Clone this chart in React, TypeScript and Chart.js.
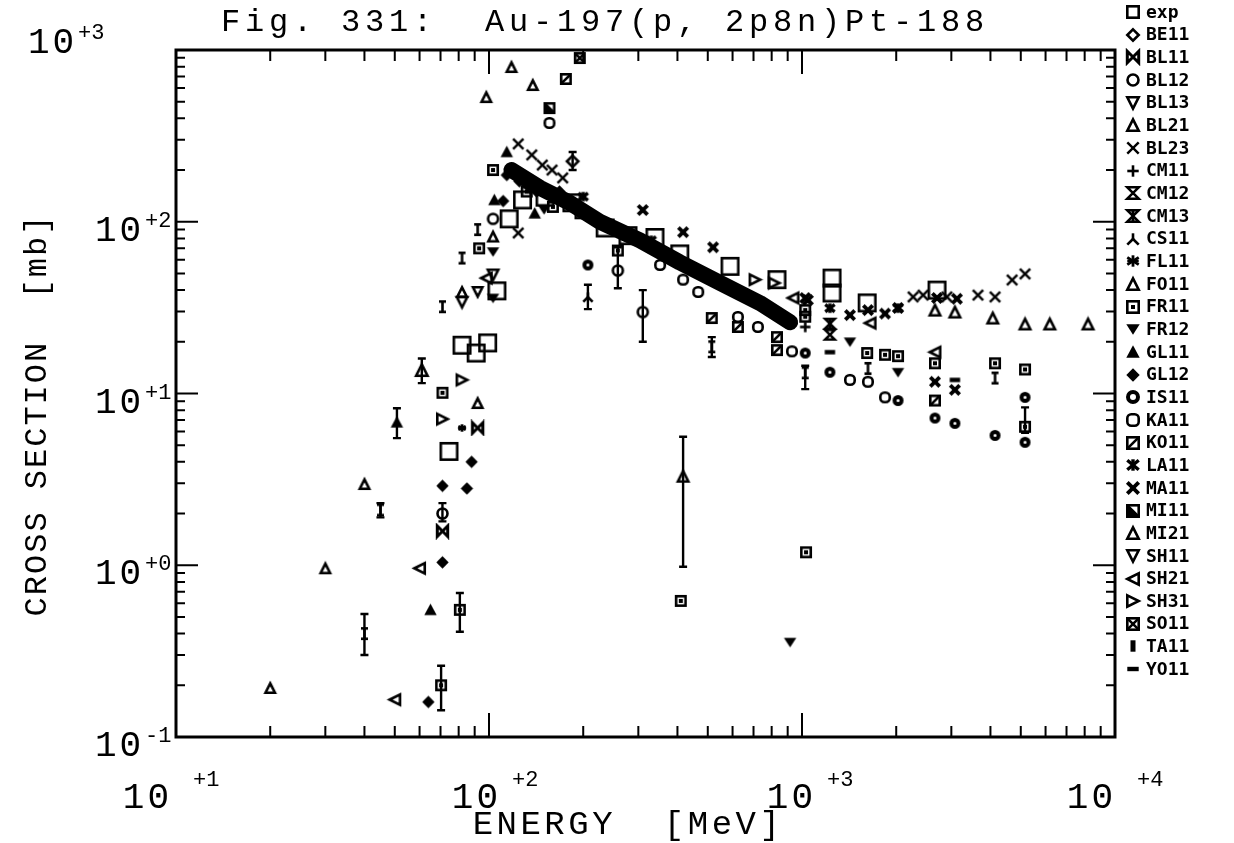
import { useEffect, useRef } from "react";
import { Chart, registerables } from "chart.js";

Chart.register(...registerables);

// ---------- axis / text ----------
const X_DECADES = [10, 100, 1000, 10000];
const Y_DECADES = [0.1, 1, 10, 100, 1000];
const X_EXPONENTS = ["+1", "+2", "+3", "+4"];
const Y_EXPONENTS = ["-1", "+0", "+1", "+2", "+3"];
const TITLE = "Fig. 331:  Au-197(p, 2p8n)Pt-188";
const X_TITLE = "ENERGY  [MeV]";
const Y_TITLE = "CROSS SECTION  [mb]";

// ---------- data: [energy MeV, cross section mb] ----------
const exp = [[74.5, 4.6], [82, 19.1], [91, 17.2], [99, 19.7], [106, 39.6], [116, 104], [128, 134], [151, 139], [184, 129], [235, 92], [278, 83], [339, 81], [407, 65], [589, 55], [832, 46], [1247, 47], [1247, 38.5], [1615, 33.7], [2700, 40]];
const be11 = [[185, 225], [135, 160]];
const bl11 = [[92, 6.3], [71, 1.58]];
const bl12 = [[103, 104], [71, 2.0], [258, 52], [310, 29.8]];
const bl13 = [[92, 39]];
const bl21 = [[20, 0.193], [30, 0.96], [40, 2.97], [92, 8.8], [103, 82], [82, 39], [98, 532], [118, 796], [138, 625]];
const bl23 = [[124, 284], [137, 245], [148, 214], [159, 200], [172, 180], [124, 86], [2264, 36.5], [2437, 37.4], [2904, 36.5], [3650, 37.4], [4138, 36.5], [4690, 45.8], [5160, 49.7]];
const cm11 = [[1024, 24.4]];
const cm12 = [[1228, 22]];
const cm13 = [[1228, 25.5]];
const cs11 = [[207, 36.4]];
const fl11 = [[82, 6.3]];
const fo11 = [[61, 13.7]];
const fr11 = [[93, 70], [71, 10.1], [80.7, 0.55], [70.3, 0.2], [410, 0.62], [1030, 1.19], [103, 200], [1024, 30.6], [1024, 28], [1615, 17.2], [1842, 16.8], [2027, 16.5], [2660, 15], [4138, 15], [5160, 13.8], [5160, 6.4], [258, 68], [132, 150], [160, 122], [196, 112]];
const fr12 = [[103, 67], [103, 36], [916, 0.357], [1423, 20], [2027, 13.3], [150, 118]];
const gl11 = [[114, 255], [104, 134], [65, 0.55], [50.8, 6.8], [140, 112]];
const gl12 = [[114, 187], [111, 132], [71, 1.04], [64, 0.16], [71, 2.9], [85, 2.8], [88, 4.0], [125, 172], [142, 150], [168, 150]];
const is11 = [[207, 56], [1024, 17.2], [2027, 9.1], [2660, 7.2], [3080, 6.7], [5160, 5.2], [1228, 13.3], [4138, 5.7], [5160, 9.5]];
const ka11 = [[156, 376], [352, 56], [417, 46], [466, 39], [624, 27.9], [723, 24.4], [929, 17.6], [1423, 12], [1625, 11.7], [1842, 9.5]];
const ko11 = [[176, 678], [515, 27.5], [624, 24.4], [832, 21.3], [832, 17.9], [2660, 9.1]];
const la11 = [[1228, 31.4], [2027, 31.4], [200, 140], [330, 78]];
const ma11 = [[310, 117], [417, 87], [520, 71], [1024, 36], [1044, 35], [1423, 28.6], [1625, 30.6], [1842, 29.2], [2027, 31.5], [2700, 36], [3126, 35.6], [2660, 11.7], [3080, 10.5]];
const mi11 = [[156, 459]];
const mi21 = [[417, 3.3], [2660, 30.6], [3080, 29.8], [4070, 27.5], [5160, 25.4], [6190, 25.4], [8200, 25.4]];
const sh11 = [[103, 49], [82, 34]];
const sh21 = [[50, 0.165], [60, 0.96], [98, 47], [936, 36], [1650, 25.7], [2660, 17.4]];
const sh31 = [[71, 7.1], [815, 44], [708, 46], [82, 12]];
const so11 = [[195, 898]];
const ta11 = [[40, 0.4], [45, 2.1], [71, 32], [82, 61.5], [92, 90], [515, 18.7], [1024, 13.2], [4138, 12.3], [1625, 14]];
const yo11 = [[1228, 17.4], [3080, 12]];

// dense overlapping calculations forming the thick band
const band = [[118, 200], [146, 157], [181, 129], [226, 100], [303, 78], [407, 58], [547, 44], [734, 33.6], [916, 26]];

// error bars: [energy, low, high]
const errorBars = [[40, 0.3, 0.52], [45, 1.9, 2.3], [50.8, 5.5, 8.2], [80.7, 0.41, 0.69], [70.3, 0.143, 0.26], [71, 1.8, 2.3], [417, 0.98, 5.6], [258, 41, 71], [310, 20, 40], [185, 200, 255], [207, 31, 43], [515, 16.3, 21.3], [1024, 10.6, 14.5], [5160, 5.9, 8.3], [61, 11.5, 16]];

const SERIES: [string, number[][], string, number][] = [
  ["exp", exp, "square", 19],
  ["BE11", be11, "diamond", 14],
  ["BL11", bl11, "bowtie", 13],
  ["BL12", bl12, "circle", 13],
  ["BL13", bl13, "triDown", 12],
  ["BL21", bl21, "triUp", 12],
  ["BL23", bl23, "x", 13],
  ["CM11", cm11, "plus", 13],
  ["CM12", cm12, "hourglass", 12],
  ["CM13", cm13, "hourglass2", 12],
  ["CS11", cs11, "lambda", 12],
  ["FL11", fl11, "asterisk", 10],
  ["FO11", fo11, "triUp", 14],
  ["FR11", fr11, "squareDot", 12],
  ["FR12", fr12, "triDownFill", 13],
  ["GL11", gl11, "triUpFill", 13],
  ["GL12", gl12, "diamondFill", 13],
  ["IS11", is11, "ring", 11],
  ["KA11", ka11, "roundSquare", 12],
  ["KO11", ko11, "squareSlash", 12],
  ["LA11", la11, "asteriskBold", 12],
  ["MA11", ma11, "xBold", 12],
  ["MI11", mi11, "squareBackslash", 12],
  ["MI21", mi21, "triUp", 13],
  ["SH11", sh11, "triDown", 13],
  ["SH21", sh21, "triLeft", 13],
  ["SH31", sh31, "triRight", 13],
  ["SO11", so11, "squareX", 12],
  ["TA11", ta11, "ibeam", 15],
  ["YO11", yo11, "hbar", 13],
];

function makeGlyph(kind: string, s: number, legend = false): HTMLCanvasElement {
  const p = 2;
  const c = document.createElement("canvas");
  const w = Math.ceil(s + 2 * p);
  c.width = w;
  c.height = w;
  const g = c.getContext("2d")!;
  g.strokeStyle = "#000";
  g.fillStyle = "#000";
  g.lineWidth = 2.6;
  g.lineJoin = "miter";
  const l = p + 1.3, t = p + 1.3, r = p + s - 1.3, b = p + s - 1.3;
  const cx = p + s / 2, cy = p + s / 2;
  const path = (pts: number[][], close = true) => {
    g.beginPath();
    g.moveTo(pts[0][0], pts[0][1]);
    for (let i = 1; i < pts.length; i++) g.lineTo(pts[i][0], pts[i][1]);
    if (close) g.closePath();
  };
  const line = (a: number, bb: number, c2: number, d: number) => {
    g.beginPath();
    g.moveTo(a, bb);
    g.lineTo(c2, d);
    g.stroke();
  };
  switch (kind) {
    case "square": g.strokeRect(l, t, r - l, b - t); break;
    case "diamond": path([[cx, t], [r, cy], [cx, b], [l, cy]]); g.stroke(); break;
    case "diamondFill": path([[cx, t - 1], [r + 1, cy], [cx, b + 1], [l - 1, cy]]); g.fill(); break;
    case "bowtie": path([[l, t], [r, b], [r, t], [l, b]]); g.lineWidth = 3; g.stroke(); break;
    case "circle": g.beginPath(); g.arc(cx, cy, (s - 3) / 2, 0, Math.PI * 2); g.stroke(); break;
    case "ring": g.lineWidth = 4; g.beginPath(); g.arc(cx, cy, (s - 4) / 2, 0, Math.PI * 2); g.stroke(); break;
    case "triUp": path([[cx, t], [r, b], [l, b]]); g.stroke(); break;
    case "triUpFill": path([[cx, t - 1], [r + 1, b], [l - 1, b]]); g.fill(); break;
    case "triDown": path([[l, t], [r, t], [cx, b]]); g.stroke(); break;
    case "triDownFill": path([[l - 1, t + 1], [r + 1, t + 1], [cx, b]]); g.fill(); break;
    case "triLeft": path([[l, cy], [r, t], [r, b]]); g.stroke(); break;
    case "triRight": path([[l, t], [r, cy], [l, b]]); g.stroke(); break;
    case "x": g.lineWidth = 2.4; line(l, t, r, b); line(r, t, l, b); break;
    case "xBold": g.lineWidth = 3.8; line(l, t, r, b); line(r, t, l, b); break;
    case "plus": line(cx, t, cx, b); line(l, cy, r, cy); break;
    case "hourglass": path([[l, t], [r, t], [l, b], [r, b]]); g.stroke(); break;
    case "hourglass2": path([[l, t], [r, t], [l, b], [r, b]]); g.stroke(); g.fillRect(cx - 1.5, t, 3, b - t); break;
    case "lambda": line(cx, t, cx, cy); line(cx, cy, l, b); line(cx, cy, r, b); break;
    case "asterisk": g.lineWidth = 2.8; line(cx, t, cx, b); line(l, t + 2, r, b - 2); line(r, t + 2, l, b - 2); line(l, cy, r, cy); break;
    case "asteriskBold": g.lineWidth = 3.4; line(cx, t, cx, b); line(l, t + 1, r, b - 1); line(r, t + 1, l, b - 1); break;
    case "squareDot": g.strokeRect(l, t, r - l, b - t); g.fillRect(cx - 2, cy - 2, 4, 4); break;
    case "roundSquare": g.beginPath(); g.roundRect(l, t, r - l, b - t, 4); g.stroke(); break;
    case "squareSlash": g.strokeRect(l, t, r - l, b - t); line(l, b, r, t); break;
    case "squareBackslash": g.strokeRect(l, t, r - l, b - t); line(l, t, r, b); path([[l, t], [l, b], [r, b]]); g.fill(); break;
    case "squareX": g.strokeRect(l, t, r - l, b - t); line(l, t, r, b); line(r, t, l, b); break;
    case "ibeam":
      if (legend) { g.fillRect(cx - 2.5, t, 5, b - t); }
      else { g.lineWidth = 2.6; line(cx, t, cx, b); line(cx - 3.5, t + 1, cx + 3.5, t + 1); line(cx - 3.5, b - 1, cx + 3.5, b - 1); }
      break;
    case "hbar": g.fillRect(l, cy - 2.2, r - l, 4.4); break;
  }
  return c;
}

// offsets of the right edge of the "10" mantissa relative to each decade tick
const X_LABEL_SHIFT = [-7, 9, 11, -2];

function makeFramePlugin(legendGlyphs: HTMLCanvasElement[]) {
  return {
    id: "frame",
    beforeDatasetsDraw(chart: any) {
      const ctx = chart.ctx as CanvasRenderingContext2D;
      const xs = chart.scales.x, ys = chart.scales.y;
      ctx.save();
      ctx.strokeStyle = "#000";
      ctx.lineWidth = 2.4;
      for (const [e, lo, hi] of errorBars) {
        const px = xs.getPixelForValue(e);
        const y1 = ys.getPixelForValue(lo), y2 = ys.getPixelForValue(hi);
        ctx.beginPath();
        ctx.moveTo(px, y1); ctx.lineTo(px, y2);
        ctx.moveTo(px - 4, y1); ctx.lineTo(px + 4, y1);
        ctx.moveTo(px - 4, y2); ctx.lineTo(px + 4, y2);
        ctx.stroke();
      }
      ctx.restore();
    },
    afterDraw(chart: any) {
      const ctx = chart.ctx as CanvasRenderingContext2D;
      const { left, right, top, bottom } = chart.chartArea;
      const xs = chart.scales.x, ys = chart.scales.y;
      const c2 = ctx as any;
      ctx.save();
      ctx.strokeStyle = "#000";
      ctx.fillStyle = "#000";
      ctx.lineWidth = 3;
      ctx.strokeRect(left, top, right - left, bottom - top);
      ctx.lineWidth = 2;
      ctx.beginPath();
      for (let d = 0; d < X_DECADES.length - 1; d++) {
        for (let m = 1; m <= 9; m++) {
          const px = xs.getPixelForValue(X_DECADES[d] * m);
          const len = m === 1 ? 24 : 11;
          ctx.moveTo(px, bottom); ctx.lineTo(px, bottom - len);
          ctx.moveTo(px, top); ctx.lineTo(px, top + len);
        }
      }
      for (let d = 0; d < Y_DECADES.length - 1; d++) {
        for (let m = 1; m <= 9; m++) {
          const py = ys.getPixelForValue(Y_DECADES[d] * m);
          const len = m === 1 ? 22 : 9;
          ctx.moveTo(left, py); ctx.lineTo(left + len, py);
          ctx.moveTo(right, py); ctx.lineTo(right - len, py);
        }
      }
      ctx.stroke();

      const MANT = "36px 'Liberation Mono', monospace";
      const EXPF = "22px 'Liberation Mono', monospace";
      ctx.textBaseline = "alphabetic";
      X_DECADES.forEach((v, i) => {
        const px = xs.getPixelForValue(v);
        const rx = px + X_LABEL_SHIFT[i];
        ctx.font = MANT;
        c2.letterSpacing = "3px";
        ctx.textAlign = "right";
        ctx.fillText("10", rx + 3, 808);
        ctx.font = EXPF;
        c2.letterSpacing = "0px";
        ctx.textAlign = "left";
        const gap = i === 0 || i === X_DECADES.length - 1 ? 24 : 14;
        ctx.fillText(X_EXPONENTS[i], rx + gap, 786);
      });
      Y_DECADES.forEach((v, i) => {
        const py = ys.getPixelForValue(v);
        const isTop = i === Y_DECADES.length - 1;
        const base = isTop ? py + 3 : py + 19;
        const lx = isTop ? 28 : 95;
        ctx.font = MANT;
        c2.letterSpacing = "3px";
        ctx.textAlign = "left";
        ctx.fillText("10", lx, base);
        ctx.font = EXPF;
        c2.letterSpacing = "0px";
        ctx.fillText(Y_EXPONENTS[i], lx + 50, base - 14);
      });
      ctx.font = "32px 'Liberation Mono', monospace";
      c2.letterSpacing = "4.8px";
      ctx.textAlign = "left";
      ctx.fillText(TITLE, 221, 31);
      ctx.font = "34px 'Liberation Mono', monospace";
      c2.letterSpacing = "3.5px";
      ctx.textAlign = "center";
      ctx.fillText(X_TITLE, 628, 834);
      ctx.save();
      ctx.translate(46, 415);
      ctx.rotate(-Math.PI / 2);
      ctx.font = "32px 'Liberation Mono', monospace";
      c2.letterSpacing = "2px";
      ctx.textAlign = "center";
      ctx.fillText(Y_TITLE, 0, 0);
      ctx.restore();
      c2.letterSpacing = "0px";
      ctx.font = "bold 18px 'DejaVu Sans Mono', monospace";
      ctx.textAlign = "left";
      ctx.textBaseline = "middle";
      SERIES.forEach((s, i) => {
        const y = 12 + i * 22.66;
        const gph = legendGlyphs[i];
        ctx.drawImage(gph, Math.round(1133 - gph.width / 2), Math.round(y - gph.height / 2));
        ctx.fillText(s[0], 1146, y + 1);
      });
      ctx.restore();
    },
  };
}

export default function App() {
  const ref = useRef<HTMLCanvasElement | null>(null);
  useEffect(() => {
    if (!ref.current) return;
    const legendGlyphs = SERIES.map(([, , kind]) => makeGlyph(kind, 14, true));
    const datasets: any[] = SERIES.map(([label, pts, kind, size]) => ({
      type: "scatter",
      label,
      data: pts.map(([x, y]) => ({ x, y })),
      pointStyle: makeGlyph(kind, size),
      pointRadius: 5,
      showLine: false,
    }));
    datasets.push({
      type: "line",
      label: "band",
      data: band.map(([x, y]) => ({ x, y })),
      borderColor: "#000",
      borderWidth: 16,
      borderCapStyle: "round",
      borderJoinStyle: "round",
      pointRadius: 0,
      tension: 0,
      fill: false,
    });
    const chart: any = new Chart(ref.current, {
      type: "scatter",
      data: { datasets },
      options: {
        animation: false,
        responsive: false,
        devicePixelRatio: 1,
        events: [],
        layout: { padding: { left: 176, top: 50, right: 119, bottom: 106 } },
        scales: {
          x: { type: "logarithmic", min: 10, max: 10000, display: false },
          y: { type: "logarithmic", min: 0.1, max: 1000, display: false },
        },
        plugins: { legend: { display: false }, title: { display: false }, tooltip: { enabled: false } },
      },
      plugins: [makeFramePlugin(legendGlyphs)],
    } as any);
    return () => chart.destroy();
  }, []);
  return (
    <div style={{ position: "absolute", left: 0, top: 0, width: 1234, height: 843, background: "#fff" }}>
      <canvas ref={ref} width={1234} height={843} style={{ display: "block" }} />
    </div>
  );
}
